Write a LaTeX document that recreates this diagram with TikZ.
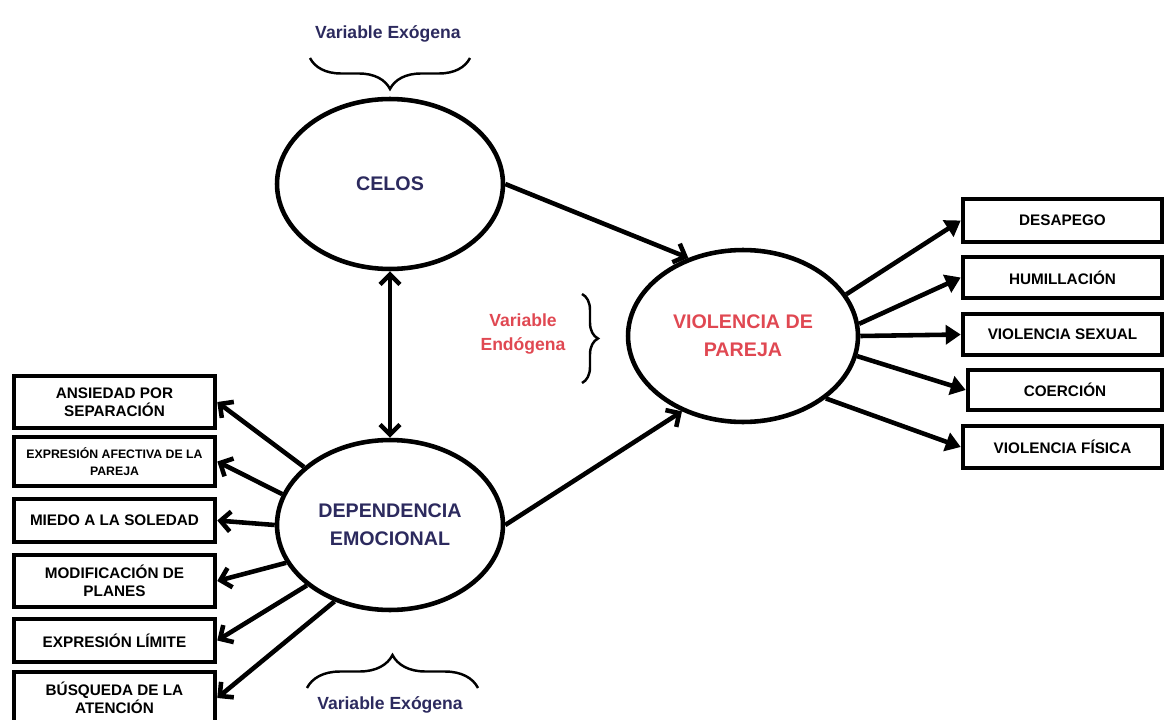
\documentclass[tikz,border=0pt]{standalone}
\usepackage{fontspec}
\setmainfont{Liberation Sans}
\usetikzlibrary{arrows.meta,shapes.geometric,decorations.pathreplacing}
\definecolor{navy}{RGB}{44,42,94}
\definecolor{rojo}{RGB}{224,72,82}
\begin{document}
\begin{tikzpicture}[x=0.02cm,y=-0.02cm,line width=2.6pt,
  latent/.style={draw,ellipse,inner sep=0pt,minimum width=4.52cm,minimum height=3.4cm,
    align=center,font=\fontsize{11.2}{16}\selectfont\bfseries},
  item/.style={draw,rectangle,inner sep=0pt,align=center,
    font=\fontsize{8.7}{10.2}\selectfont\bfseries},
  barb/.style={-{Straight Barb[length=2mm,width=4mm]}},
  tri/.style={-{Triangle[length=3mm,width=3.8mm]}},
  llave/.style={decorate,decoration={brace,amplitude=#1},line width=1.4pt},
  etiq/.style={align=center,font=\fontsize{10}{14.2}\selectfont\bfseries}]
\useasboundingbox (0,0) rectangle (1164,720);

% latent variables
\node[latent,text=navy] (celos) at (390,184) {CELOS};
\node[latent,text=navy] (dep) at (390,525) {DEPENDENCIA\\EMOCIONAL};
\node[latent,text=rojo,minimum width=4.6cm,minimum height=3.44cm] (vio) at (743,336) {VIOLENCIA DE\\PAREJA};

% indicators of dep
\node[item,minimum width=4.02cm,minimum height=1.04cm] (ansiedad) at (114.5,402) {ANSIEDAD POR\\SEPARACIÓN};
\node[item,minimum width=4.02cm,minimum height=0.98cm,font=\fontsize{7}{9.5}\selectfont\bfseries] (afectiva) at (114.5,461.5) {EXPRESIÓN AFECTIVA DE LA\\PAREJA};
\node[item,minimum width=4.02cm,minimum height=0.86cm] (miedo) at (114.5,520.5) {MIEDO A LA SOLEDAD};
\node[item,minimum width=4.02cm,minimum height=1.04cm] (planes) at (114.5,581) {MODIFICACIÓN DE\\PLANES};
\node[item,minimum width=4.02cm,minimum height=0.86cm] (limite) at (114.5,640.5) {EXPRESIÓN LÍMITE};
\node[item,minimum width=4.02cm,minimum height=1.04cm] (atencion) at (114.5,698) {BÚSQUEDA DE LA\\ATENCIÓN};

% indicators of vio
\node[item,minimum width=3.98cm,minimum height=0.86cm] (desapego) at (1062.5,220.5) {DESAPEGO};
\node[item,minimum width=3.98cm,minimum height=0.82cm] (humilla) at (1062.5,277.5) {HUMILLACIÓN};
\node[item,minimum width=3.98cm,minimum height=0.82cm] (sexual) at (1062.5,334.5) {VIOLENCIA SEXUAL};
\node[item,minimum width=3.88cm,minimum height=0.8cm] (coercion) at (1065,390) {COERCIÓN};
\node[item,minimum width=3.98cm,minimum height=0.84cm] (fisica) at (1062.5,447) {VIOLENCIA FÍSICA};

% paths
\draw[barb] (celos.east) -- (vio.125);
\draw[barb] (dep.east) -- (vio.231);
\draw[{Straight Barb[length=2mm,width=4mm]}-{Straight Barb[length=2mm,width=4mm]}] (celos.south) -- (dep.north);

\draw[barb] (dep.146.8) -- (ansiedad.east);
\draw[barb] (dep.164.5) -- (afectiva.east);
\draw[barb] (dep.180) -- (miedo.east);
\draw[barb] (dep.200.2) -- (planes.east);
\draw[barb] (dep.216) -- (limite.east);
\draw[barb] (dep.234) -- (atencion.east);

\draw[tri] (vio.22.9) -- (desapego.west);
\draw[tri] (vio.6.8) -- (humilla.west);
\draw[tri] (vio.0) -- (sexual.west);
\draw[tri] (vio.-10) -- (coercion.west);
\draw[tri] (vio.-37) -- (fisica.west);

% braces and labels
\draw[llave=0.62cm] (470,58) -- (310,58);
\draw[llave=0.66cm] (307,688) -- (478,688);
\draw[llave=0.32cm] (582,294) -- (582,383);
\node[etiq,text=navy] (exo1) at (388,34) {Variable Exógena};
\node[etiq,text=navy] (exo2) at (390,705) {Variable Exógena};
\node[etiq,text=rojo] (endo) at (523,334) {Variable\\Endógena};
\end{tikzpicture}
\end{document}
